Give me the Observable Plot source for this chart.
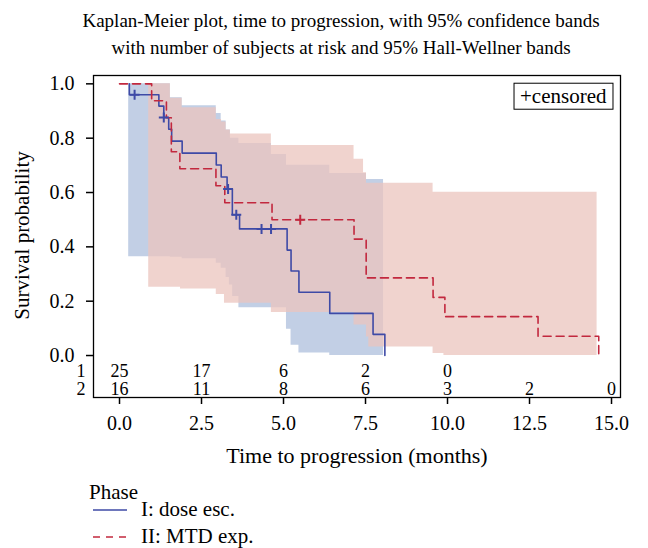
<!DOCTYPE html>
<html>
<head>
<meta charset="utf-8">
<script src="https://cdn.jsdelivr.net/npm/d3@7"></script>
<script src="https://cdn.jsdelivr.net/npm/@observablehq/plot@0.6"></script>
<style>
  body { margin: 0; background: #fff; }
  #chart svg { display: block; }
</style>
</head>
<body>
<div id="chart"></div>
<script>
// ---- Titles / labels ----
const titleLines = [
  "Kaplan-Meier plot, time to progression, with 95% confidence bands",
  "with number of subjects at risk and 95% Hall-Wellner bands"
];
const xLabel = "Time to progression (months)";
const yLabel = "Survival probability";
const censorLabel = "+censored";
const legendTitle = "Phase";
const groupNames = ["I: dose esc.", "II: MTD exp."];

// ---- Axis ticks ----
const xTicks = [0, 2.5, 5, 7.5, 10, 12.5, 15];
const yTicks = [0, 0.2, 0.4, 0.6, 0.8, 1.0];

// ---- Phase I (dose escalation) KM step curve ----
const km1Time = [0.30, 0.30, 1.20, 1.35, 1.50, 1.59, 1.91, 2.95, 3.10, 3.28, 3.44, 3.66, 5.11, 5.23, 5.47, 6.41, 7.73, 8.09];
const km1Surv = [1.000, 0.960, 0.918, 0.876, 0.833, 0.789, 0.745, 0.701, 0.657, 0.613, 0.518, 0.466, 0.388, 0.311, 0.233, 0.155, 0.078, 0.000];
const cens1Time = [0.46, 1.35, 3.31, 3.56, 4.33, 4.62];
const cens1Surv = [0.960, 0.876, 0.613, 0.518, 0.466, 0.466];

// ---- Phase II (MTD expansion) KM step curve ----
const km2Time = [0, 0.98, 1.43, 1.58, 1.84, 2.94, 3.21, 4.65, 7.15, 7.52, 9.56, 9.92, 12.76, 14.61];
const km2Surv = [1.000, 0.9375, 0.875, 0.750, 0.6875, 0.625, 0.5625, 0.500, 0.4286, 0.2857, 0.214, 0.143, 0.071, 0.000];
const cens2Time = [5.51];
const cens2Surv = [0.500];

// ---- Hall-Wellner bands ----
const band1Time = [0.28, 1.55, 1.91, 2.95, 3.10, 3.25, 3.35, 3.38, 3.45, 3.64, 4.63, 5.09, 5.23, 5.47, 6.41, 7.53, 8.05];
const band1Lo   = [0.364, 0.362, 0.356, 0.340, 0.321, 0.287, 0.260, 0.260, 0.217, 0.176, 0.176, 0.097, 0.038, 0.009, 0.000, 0.000, 0.000];
const band1Hi   = [1.000, 0.949, 0.919, 0.891, 0.863, 0.830, 0.830, 0.800, 0.800, 0.780, 0.740, 0.700, 0.700, 0.700, 0.670, 0.648, 0.648];

const band2Time = [0.89, 1.55, 1.86, 1.91, 2.95, 3.11, 3.20, 3.25, 3.38, 4.63, 7.15, 7.44, 7.53, 7.60, 9.56, 9.89, 14.56];
const band2Lo   = [0.251, 0.251, 0.245, 0.245, 0.225, 0.225, 0.192, 0.192, 0.192, 0.158, 0.112, 0.112, 0.068, 0.031, 0.007, 0.000, 0.000];
const band2Hi   = [1.000, 0.947, 0.947, 0.912, 0.869, 0.860, 0.860, 0.830, 0.815, 0.773, 0.722, 0.673, 0.634, 0.634, 0.601, 0.601, 0.601];

// ---- Number at risk ----
const risk1Time = [0, 2.5, 5, 7.5, 10];
const risk1N    = [25, 17, 6, 2, 0];
const risk2Time = [0, 2.5, 5, 7.5, 10, 12.5, 15];
const risk2N    = [16, 11, 8, 6, 3, 2, 0];
const riskRowLabels = ["1", "2"];

// ---- Styling ----
const FONT = "'Liberation Serif', 'Times New Roman', serif";
const blue = "#3e4aa6";
const red = "#c2283e";
const blueBand = "#c2cfe5";
const redBand = "rgb(235,196,190)";

const zip = (t, y) => t.map((d, i) => ({t: d, y: y[i]}));
const km1 = zip(km1Time, km1Surv);
const km2 = zip(km2Time, km2Surv);
const cens1 = zip(cens1Time, cens1Surv);
const cens2 = zip(cens2Time, cens2Surv);
const band1 = band1Time.map((t, i) => ({t, lo: band1Lo[i], hi: band1Hi[i]}));
const band2 = band2Time.map((t, i) => ({t, lo: band2Lo[i], hi: band2Hi[i]}));
const risk = [
  ...risk1Time.map((t, i) => ({t, n: risk1N[i], row: 0})),
  ...risk2Time.map((t, i) => ({t, n: risk2N[i], row: 1}))
];
const rowY = [-0.057, -0.124];
const rows = riskRowLabels.map((label, i) => ({label, y: rowY[i]}));

const fsTitle = 19, fsLabel = 21, fsTick = 20, fsRisk = 18, fsLegend = 21;
const plot = Plot.plot({
  width: 648,
  height: 548,
  marginTop: 75,
  marginBottom: 151,
  marginLeft: 93,
  marginRight: 28,
  style: {fontFamily: FONT, fontSize: fsTick + "px", color: "#000", background: "#fff"},
  x: {domain: [-0.793, 15.274]},
  y: {domain: [-0.1545, 1.0307]},
  marks: [
    Plot.areaY(band1, {x: "t", y1: "lo", y2: "hi", curve: "step-after", fill: blueBand}),
    Plot.areaY(band2, {x: "t", y1: "lo", y2: "hi", curve: "step-after", fill: redBand, fillOpacity: 0.75}),
    Plot.line(km1, {x: "t", y: "y", curve: "step-after", stroke: blue, strokeWidth: 1.6}),
    Plot.line(km2, {x: "t", y: "y", curve: "step-after", stroke: red, strokeWidth: 1.6, strokeDasharray: "8,5"}),
    Plot.dot(cens1, {x: "t", y: "y", symbol: "plus", r: 3.3, stroke: blue, strokeWidth: 2}),
    Plot.dot(cens2, {x: "t", y: "y", symbol: "plus", r: 3.3, stroke: red, strokeWidth: 2}),
    Plot.text(risk, {x: "t", y: d => rowY[d.row], text: "n", fontSize: fsRisk, lineAnchor: "middle"}),
    Plot.text(rows, {y: "y", text: "label", frameAnchor: "left", dx: -8, textAnchor: "end", fontSize: fsRisk, lineAnchor: "middle"}),
    Plot.frame({stroke: "#000", strokeWidth: 1.3}),
    Plot.axisX({ticks: xTicks, tickFormat: d3.format(".1f"), tickSize: 7, tickPadding: 11, label: null, fontSize: fsTick, strokeWidth: 1.5}),
    Plot.axisY({ticks: yTicks, tickFormat: d3.format(".1f"), tickSize: 7, tickPadding: 12, label: null, fontSize: fsTick, strokeWidth: 1.5}),
    Plot.text([xLabel], {frameAnchor: "bottom", dy: 58, textAnchor: "middle", fontSize: 22, lineAnchor: "middle"}),
    Plot.text([yLabel], {frameAnchor: "left", dx: -71, dy: -1, rotate: -90, textAnchor: "middle", fontSize: fsLabel, lineAnchor: "middle"}),
    Plot.text([titleLines[0]], {frameAnchor: "top", dx: -16, dy: -55, textAnchor: "middle", fontSize: fsTitle, lineAnchor: "middle"}),
    Plot.text([titleLines[1]], {frameAnchor: "top", dx: -16, dy: -28, textAnchor: "middle", fontSize: fsTitle, lineAnchor: "middle"}),
    Plot.text([censorLabel], {frameAnchor: "top-right", dx: -14, dy: 21, textAnchor: "end", fontSize: fsLegend, lineAnchor: "middle"})
  ]
});
document.getElementById("chart").appendChild(plot);

const svg = d3.select(plot);

// Box around "+censored" (sized from the label's own bounding box)
let box = null;
svg.selectAll("text").each(function() {
  if (this.textContent.trim() === censorLabel) {
    const bb = this.getBBox();
    const p = plot.getScreenCTM ? plot.getScreenCTM() : null;
    let x = bb.x, y = bb.y;
    if (p && this.getScreenCTM()) {
      const inv = p.inverse().multiply(this.getScreenCTM());
      x = inv.a * bb.x + inv.c * bb.y + inv.e;
      y = inv.b * bb.x + inv.d * bb.y + inv.f;
    }
    box = {x, y, w: bb.width, h: bb.height};
  }
});
if (box) {
  svg.append("rect")
    .attr("x", box.x - 6).attr("y", box.y - 1)
    .attr("width", box.w + 12).attr("height", box.h + 2)
    .attr("fill", "none").attr("stroke", "#000").attr("stroke-width", 1);
}

// Legend below the chart
const lg = svg.append("g")
  .attr("font-family", FONT).attr("font-size", fsLegend).attr("text-anchor", "start");
lg.append("text").attr("x", 89).attr("y", 492).attr("dy", "0.32em").text(legendTitle);
lg.append("line").attr("x1", 93).attr("x2", 127).attr("y1", 510).attr("y2", 510)
  .attr("stroke", blue).attr("stroke-width", 1.6);
lg.append("text").attr("x", 141).attr("y", 509).attr("dy", "0.32em").text(groupNames[0]);
lg.append("line").attr("x1", 93).attr("x2", 127).attr("y1", 537).attr("y2", 537)
  .attr("stroke", red).attr("stroke-width", 1.6).attr("stroke-dasharray", "7,6");
lg.append("text").attr("x", 141).attr("y", 536).attr("dy", "0.32em").text(groupNames[1]);
</script>
</body>
</html>
